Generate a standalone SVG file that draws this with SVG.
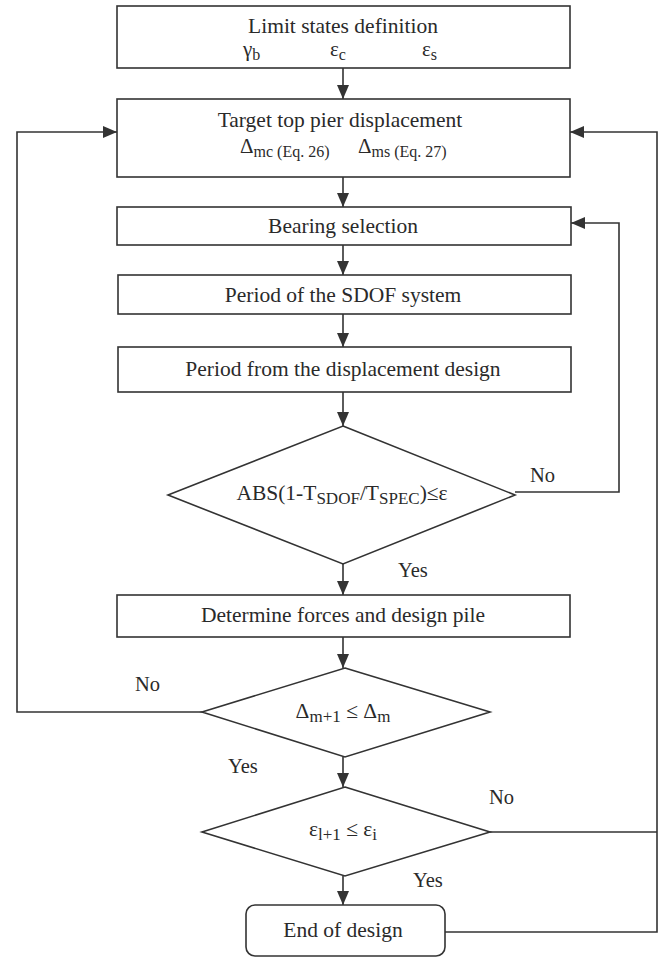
<svg xmlns="http://www.w3.org/2000/svg" width="665" height="958" viewBox="0 0 665 958">
<defs>
<marker id="arr" markerUnits="userSpaceOnUse" markerWidth="14" markerHeight="12" refX="14" refY="6" orient="auto">
<path d="M0,0 L14,6 L0,12 z" fill="#333"/>
</marker>
<style>
.box{fill:#fff;stroke:#333;stroke-width:1.6}
.ln{fill:none;stroke:#333;stroke-width:1.6}
.t{font-family:"Liberation Serif","Times New Roman",serif;font-size:21.5px;fill:#2a2a2a;text-anchor:middle}
.ts{font-family:"Liberation Serif","Times New Roman",serif;font-size:21px;fill:#2a2a2a}
.l{font-family:"Liberation Serif","Times New Roman",serif;font-size:20.5px;fill:#2a2a2a}
.s{font-size:16px}
.s2{font-size:17px}
</style>
</defs>
<rect width="665" height="958" fill="#fff"/>
<g id="connectors">
<path class="ln" d="M343,68 V99" marker-end="url(#arr)"/>
<path class="ln" d="M343,177 V207" marker-end="url(#arr)"/>
<path class="ln" d="M343,245 V275" marker-end="url(#arr)"/>
<path class="ln" d="M343,314 V347" marker-end="url(#arr)"/>
<path class="ln" d="M343,392 V426" marker-end="url(#arr)"/>
<path class="ln" d="M343,564 V595" marker-end="url(#arr)"/>
<path class="ln" d="M343,637 V668" marker-end="url(#arr)"/>
<path class="ln" d="M343,757 V787" marker-end="url(#arr)"/>
<path class="ln" d="M343,876 V905" marker-end="url(#arr)"/>
<path class="ln" d="M515,492 H619 V223 H571" marker-end="url(#arr)"/>
<path class="ln" d="M202,712 H17 V132 H117" marker-end="url(#arr)"/>
<path class="ln" d="M490,832 H657"/>
<path class="ln" d="M445,932 H657 V132 H570" marker-end="url(#arr)"/>
<text class="l" x="530" y="482">No</text>
<text class="l" x="398" y="577">Yes</text>
<text class="l" x="135" y="691">No</text>
<text class="l" x="228" y="773">Yes</text>
<text class="l" x="489" y="804">No</text>
<text class="l" x="413" y="887">Yes</text>
</g>
<g id="limit-states">
<rect class="box" x="117" y="6" width="453" height="62"/>
<text class="t" x="343" y="33">Limit states definition</text>
<text class="ts" x="243" y="56">γ<tspan class="s" dy="4">b</tspan></text>
<text class="ts" x="330" y="56">ε<tspan class="s" dy="4">c</tspan></text>
<text class="ts" x="422" y="56">ε<tspan class="s" dy="4">s</tspan></text>
</g>
<g id="target">
<rect class="box" x="117" y="99" width="453" height="78"/>
<text class="t" x="340" y="127">Target top pier displacement</text>
<text class="ts" x="240" y="153">Δ<tspan class="s" dy="4">mc (Eq. 26)</tspan></text>
<text class="ts" x="358" y="153">Δ<tspan class="s" dy="4">ms (Eq. 27)</tspan></text>
</g>
<g id="bearing">
<rect class="box" x="117" y="207" width="454" height="38"/>
<text class="t" x="343" y="233">Bearing selection</text>
</g>
<g id="period-sdof">
<rect class="box" x="118" y="275" width="453" height="39"/>
<text class="t" x="343" y="302">Period of the SDOF system</text>
</g>
<g id="period-disp">
<rect class="box" x="118" y="347" width="453" height="45"/>
<text class="t" x="343" y="376">Period from the displacement design</text>
</g>
<g id="check-period">
<polygon class="box" points="343,426 515,495 343,564 168,495"/>
<text class="t" x="342" y="500">ABS(1-T<tspan class="s2" dy="4">SDOF</tspan><tspan dy="-4">/T</tspan><tspan class="s2" dy="4">SPEC</tspan><tspan dy="-4">)≤ε</tspan></text>
</g>
<g id="forces">
<rect class="box" x="117" y="595" width="453" height="42"/>
<text class="t" x="343" y="622">Determine forces and design pile</text>
</g>
<g id="check-disp">
<polygon class="box" points="345,668 490,712 345,757 202,712"/>
<text class="t" x="343" y="718">Δ<tspan class="s2" dy="4">m+1</tspan><tspan dy="-4"> ≤ Δ</tspan><tspan class="s2" dy="4">m</tspan></text>
</g>
<g id="check-strain">
<polygon class="box" points="345,787 490,832 345,876 202,832"/>
<text class="t" x="343" y="836">ε<tspan class="s2" dy="4">l+1</tspan><tspan dy="-4"> ≤ ε</tspan><tspan class="s2" dy="4">i</tspan></text>
</g>
<g id="end">
<rect class="box" x="246" y="905" width="199" height="51" rx="9"/>
<text class="t" x="343" y="937">End of design</text>
</g>
</svg>
